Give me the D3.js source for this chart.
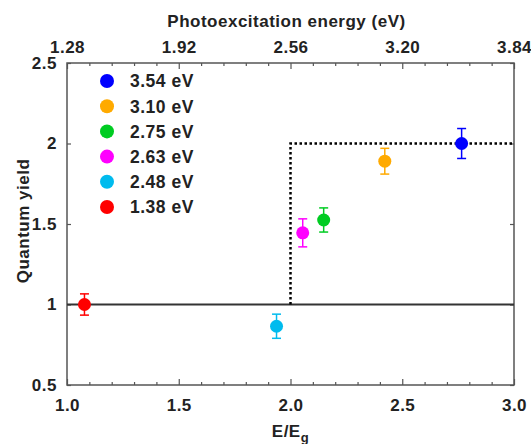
<!DOCTYPE html>
<html>
<head>
<meta charset="utf-8">
<script src="https://cdn.jsdelivr.net/npm/d3@7"></script>
<style>
    body { margin: 0; background: #fff; }
    text { font-family: "Liberation Sans", Arial, sans-serif; font-weight: bold; fill: #222; letter-spacing: 0.5px; }
</style>
</head>
<body>
<svg id="chart"></svg>
<script>
// values
const bandgap = 1.28;
const energies = [3.54, 3.10, 2.75, 2.63, 2.48, 1.38];
const yields = [2.0, 1.89, 1.525, 1.445, 0.865, 1.0];
const errors = [0.093, 0.08, 0.075, 0.087, 0.075, 0.066];
const colors = ["#0000ff", "#ffaa00", "#00cc22", "#ff00ff", "#00bbee", "#ff0000"];

const ratioTicks = [1.0, 1.5, 2.0, 2.5, 3.0];
const energyLabels = ["1.28", "1.92", "2.56", "3.20", "3.84"];
const yTicks = [0.5, 1, 1.5, 2, 2.5];
const ideal = [[2, 1], [2, 2], [3, 2]];

const margin = { top: 63, right: 17, bottom: 59, left: 67 },
    width = 531 - margin.left - margin.right,
    height = 444 - margin.top - margin.bottom;

const svg = d3.select("#chart")
    .attr("width", 531)
    .attr("height", 444)
    .append("g")
    .attr("transform", `translate(${margin.left},${margin.top})`);

const x = d3.scaleLinear().domain([1, 3]).range([0, width]);
const y = d3.scaleLinear().domain([0.5, 2.5]).range([height, 0]);

const minor = d3.range(10, 31).map(d => d / 10).filter(d => !ratioTicks.includes(d));

// axes, ticks pointing in
function styleAxis(g) {
    g.select(".domain").remove();
    g.selectAll("line").attr("stroke", "#555").attr("stroke-width", 1.2);
    g.selectAll("text").style("font-size", "17px");
}

svg.append("g")
    .attr("transform", `translate(0,${height})`)
    .call(d3.axisBottom(x).tickValues(minor).tickSize(-3).tickFormat(""))
    .call(styleAxis);
svg.append("g")
    .attr("transform", `translate(0,${height})`)
    .call(d3.axisBottom(x).tickValues(ratioTicks).tickSize(-6).tickPadding(14).tickFormat(d3.format(".1f")))
    .call(styleAxis);

svg.append("g")
    .call(d3.axisTop(x).tickValues(minor).tickSize(-3).tickFormat(""))
    .call(styleAxis);
svg.append("g")
    .call(d3.axisTop(x).tickValues(ratioTicks).tickSize(-6).tickPadding(10)
        .tickFormat((d, i) => energyLabels[i]))
    .call(styleAxis);

svg.append("g")
    .call(d3.axisLeft(y).tickValues(yTicks).tickSize(-4).tickPadding(10).tickFormat(d3.format("")))
    .call(styleAxis);
svg.append("g")
    .attr("transform", `translate(${width},0)`)
    .call(d3.axisRight(y).tickValues(yTicks).tickSize(-4).tickFormat(""))
    .call(styleAxis);

svg.append("rect")
    .attr("width", width)
    .attr("height", height)
    .attr("fill", "none")
    .attr("stroke", "#555")
    .attr("stroke-width", 1.5);

// reference lines
svg.append("line")
    .attr("x1", x(1)).attr("x2", x(3))
    .attr("y1", y(1)).attr("y2", y(1))
    .attr("stroke", "#333")
    .attr("stroke-width", 2.2);

svg.append("path")
    .datum(ideal)
    .attr("d", d3.line().x(d => x(d[0])).y(d => y(d[1])))
    .attr("fill", "none")
    .attr("stroke", "#000")
    .attr("stroke-width", 2.5)
    .attr("stroke-dasharray", "2.5,2.5");

// points with error bars
const pts = energies.map((e, i) => ({ r: e / bandgap, q: yields[i], err: errors[i], c: colors[i] }));

const pg = svg.append("g").selectAll("g")
    .data(pts)
    .enter()
    .append("g")
    .attr("stroke", d => d.c)
    .attr("stroke-width", 1.5);

pg.append("line")
    .attr("x1", d => x(d.r)).attr("x2", d => x(d.r))
    .attr("y1", d => y(d.q - d.err)).attr("y2", d => y(d.q + d.err));
pg.selectAll(".cap")
    .data(d => [d.q - d.err, d.q + d.err].map(v => ({ r: d.r, v: v })))
    .enter()
    .append("line")
    .attr("x1", d => x(d.r) - 4.5).attr("x2", d => x(d.r) + 4.5)
    .attr("y1", d => y(d.v)).attr("y2", d => y(d.v));
pg.append("circle")
    .attr("cx", d => x(d.r))
    .attr("cy", d => y(d.q))
    .attr("r", 6.5)
    .attr("fill", d => d.c)
    .attr("stroke", "none");

// legend
const legend = svg.append("g")
    .attr("transform", "translate(40,18)");
const item = legend.selectAll("g")
    .data(energies)
    .enter()
    .append("g")
    .attr("transform", (d, i) => `translate(0,${i * 25.2})`);
item.append("circle")
    .attr("r", 7)
    .attr("fill", (d, i) => colors[i]);
item.append("text")
    .attr("x", 23)
    .attr("dy", "0.36em")
    .style("font-size", "17.5px")
    .text(d => d3.format(".2f")(d) + " eV");

// axis titles
svg.append("text")
    .attr("x", width / 2 - 4)
    .attr("y", -36)
    .attr("text-anchor", "middle")
    .style("font-size", "17px")
    .text("Photoexcitation energy (eV)");

const xt = svg.append("text")
    .attr("x", width / 2)
    .attr("y", height + 52)
    .attr("text-anchor", "middle")
    .style("font-size", "17px");
xt.append("tspan").text("E/E");
xt.append("tspan").attr("dy", 5).style("font-size", "13px").text("g");

svg.append("text")
    .attr("transform", `translate(${-38},${height / 2 - 3}) rotate(-90)`)
    .attr("text-anchor", "middle")
    .style("font-size", "17px")
    .text("Quantum yield");
</script>
</body>
</html>
